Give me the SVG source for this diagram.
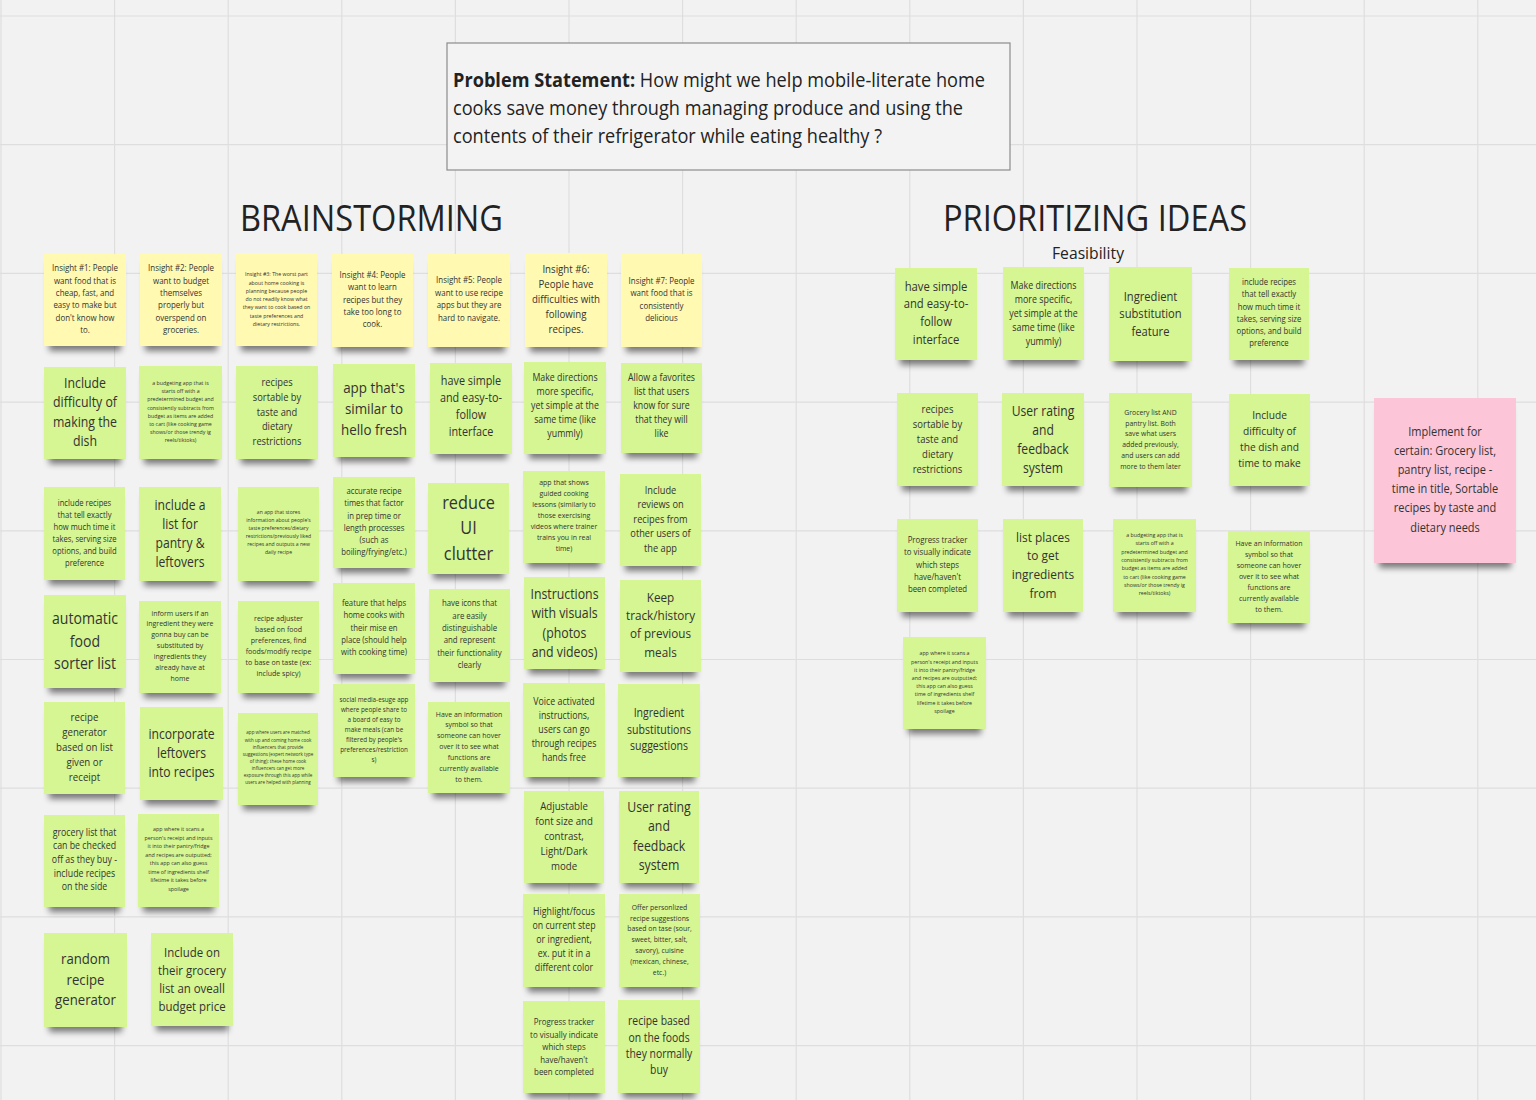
<svg xmlns="http://www.w3.org/2000/svg" width="1536" height="1100" viewBox="0 0 1536 1100">
<defs>
<style>
.bg{fill:#f2f2f2}
.grid{stroke:#dedede;stroke-width:1.2;fill:none}
.y,.g,.p{filter:url(#sh)}
.y{fill:#fff9b1}
.g{fill:#d5f692}
.p{fill:#fcc6d8}
.t{font-family:"Open Sans","Liberation Sans",sans-serif;fill:#333;text-anchor:middle}
.h{font-family:"Open Sans","Liberation Sans",sans-serif;fill:#222}
</style>
<filter id="sh" x="-15%" y="-15%" width="130%" height="140%">
<feMorphology in="SourceAlpha" operator="erode" radius="5 2"/>
<feOffset dy="7"/>
<feGaussianBlur stdDeviation="3"/>
<feComponentTransfer><feFuncA type="linear" slope="0.5"/></feComponentTransfer>
<feMerge><feMergeNode/><feMergeNode in="SourceGraphic"/></feMerge>
</filter>
</defs>
<rect class="bg" x="0" y="0" width="1536" height="1100"/>
<path class="grid" d="M1 0V1100M114.6 0V1100M228.2 0V1100M341.8 0V1100M455.4 0V1100M569 0V1100M682.6 0V1100M796.2 0V1100M909.8 0V1100M1023.4 0V1100M1137 0V1100M1250.6 0V1100M1364.2 0V1100M1477.8 0V1100M0 16H1536M0 144.7H1536M0 273.4H1536M0 402.1H1536M0 530.8H1536M0 659.5H1536M0 788.2H1536M0 916.9H1536M0 1045.6H1536"/>

<g id="problem">
<rect x="447" y="43" width="563" height="127" fill="#f3f3f3" stroke="#8c8c8c" stroke-width="1.2"/>
<text class="h" x="453" y="87" font-size="20" textLength="532" lengthAdjust="spacingAndGlyphs"><tspan font-weight="bold">Problem Statement:</tspan> How might we help mobile-literate home</text>
<text class="h" x="453" y="115" font-size="20" textLength="510" lengthAdjust="spacingAndGlyphs">cooks save money through managing produce and using the</text>
<text class="h" x="453" y="143" font-size="20" textLength="429" lengthAdjust="spacingAndGlyphs">contents of their refrigerator while eating healthy ?</text>
</g>
<g id="titles">
<text class="h" x="240" y="231" font-size="36" textLength="263" lengthAdjust="spacingAndGlyphs">BRAINSTORMING</text>
<text class="h" x="943" y="231" font-size="36" textLength="304" lengthAdjust="spacingAndGlyphs">PRIORITIZING IDEAS</text>
<text class="h" x="1052" y="259" font-size="17" textLength="72" lengthAdjust="spacingAndGlyphs">Feasibility</text>
</g>
<g id="connectors"/>

<g id="b1-1"><rect class="y" x="44" y="254" width="82" height="92"/><text class="t" transform="matrix(.88 0 0 1 85 0)" font-size="9"><tspan x="0" y="271.2">Insight #1: People</tspan><tspan x="0" dy="12.4">want food that is</tspan><tspan x="0" dy="12.4">cheap, fast, and</tspan><tspan x="0" dy="12.4">easy to make but</tspan><tspan x="0" dy="12.4">don't know how</tspan><tspan x="0" dy="12.4">to.</tspan></text></g>
<g id="b1-2"><rect class="g" x="44" y="367" width="82" height="92"/><text class="t" transform="matrix(.88 0 0 1 85 0)" font-size="14"><tspan x="0" y="388">Include</tspan><tspan x="0" dy="19.3">difficulty of</tspan><tspan x="0" dy="19.3">making the</tspan><tspan x="0" dy="19.3">dish</tspan></text></g>
<g id="b1-3"><rect class="g" x="44" y="487" width="81" height="93"/><text class="t" transform="matrix(.88 0 0 1 84.5 0)" font-size="8.7"><tspan x="0" y="506.1">include recipes</tspan><tspan x="0" dy="12">that tell exactly</tspan><tspan x="0" dy="12">how much time it</tspan><tspan x="0" dy="12">takes, serving size</tspan><tspan x="0" dy="12">options, and build</tspan><tspan x="0" dy="12">preference</tspan></text></g>
<g id="b1-4"><rect class="g" x="44" y="595" width="82" height="93"/><text class="t" transform="matrix(.88 0 0 1 85 0)" font-size="16"><tspan x="0" y="624.3">automatic</tspan><tspan x="0" dy="22.5">food</tspan><tspan x="0" dy="22.5">sorter list</tspan></text></g>
<g id="b1-5"><rect class="g" x="44" y="702" width="81" height="92"/><text class="t" transform="matrix(.88 0 0 1 84.5 0)" font-size="11"><tspan x="0" y="721">recipe</tspan><tspan x="0" dy="15">generator</tspan><tspan x="0" dy="15">based on list</tspan><tspan x="0" dy="15">given or</tspan><tspan x="0" dy="15">receipt</tspan></text></g>
<g id="b1-6"><rect class="g" x="44" y="815" width="81" height="92"/><text class="t" transform="matrix(.88 0 0 1 84.5 0)" font-size="10"><tspan x="0" y="835.7">grocery list that</tspan><tspan x="0" dy="13.7">can be checked</tspan><tspan x="0" dy="13.7">off as they buy -</tspan><tspan x="0" dy="13.7">include recipes</tspan><tspan x="0" dy="13.7">on the side</tspan></text></g>
<g id="b1-7"><rect class="g" x="44" y="933" width="83" height="94"/><text class="t" transform="matrix(.88 0 0 1 85.5 0)" font-size="15"><tspan x="0" y="964.4">random</tspan><tspan x="0" dy="20.5">recipe</tspan><tspan x="0" dy="20.5">generator</tspan></text></g>

<g id="b2-1"><rect class="y" x="140" y="254" width="82" height="92"/><text class="t" transform="matrix(.88 0 0 1 181 0)" font-size="9"><tspan x="0" y="271.2">Insight #2: People</tspan><tspan x="0" dy="12.4">want to budget</tspan><tspan x="0" dy="12.4">themselves</tspan><tspan x="0" dy="12.4">properly but</tspan><tspan x="0" dy="12.4">overspend on</tspan><tspan x="0" dy="12.4">groceries.</tspan></text></g>
<g id="b2-2"><rect class="g" x="139" y="366" width="83" height="93"/><text class="t" transform="matrix(.88 0 0 1 180.5 0)" font-size="6"><tspan x="0" y="385">a budgeting app that is</tspan><tspan x="0" dy="8.2">starts off with a</tspan><tspan x="0" dy="8.2">predetermined budget and</tspan><tspan x="0" dy="8.2">consistently subtracts from</tspan><tspan x="0" dy="8.2">budget as items are added</tspan><tspan x="0" dy="8.2">to cart (like cooking game</tspan><tspan x="0" dy="8.2">shows/or those trendy ig</tspan><tspan x="0" dy="8.2">reels/tiktoks)</tspan></text></g>
<g id="b2-3"><rect class="g" x="139" y="487" width="82" height="94"/><text class="t" transform="matrix(.88 0 0 1 180 0)" font-size="13.8"><tspan x="0" y="510">include a</tspan><tspan x="0" dy="19">list for</tspan><tspan x="0" dy="19">pantry &amp;</tspan><tspan x="0" dy="19">leftovers</tspan></text></g>
<g id="b2-4"><rect class="g" x="139" y="601" width="82" height="92"/><text class="t" transform="matrix(.88 0 0 1 180 0)" font-size="7.9"><tspan x="0" y="615.6">inform users if an</tspan><tspan x="0" dy="10.9">ingredient they were</tspan><tspan x="0" dy="10.9">gonna buy can be</tspan><tspan x="0" dy="10.9">substituted by</tspan><tspan x="0" dy="10.9">ingredients they</tspan><tspan x="0" dy="10.9">already have at</tspan><tspan x="0" dy="10.9">home</tspan></text></g>
<g id="b2-5"><rect class="g" x="140" y="707" width="83" height="93"/><text class="t" transform="matrix(.88 0 0 1 181.5 0)" font-size="13.8"><tspan x="0" y="739.5">incorporate</tspan><tspan x="0" dy="19">leftovers</tspan><tspan x="0" dy="19">into recipes</tspan></text></g>
<g id="b2-6"><rect class="g" x="138" y="814" width="81" height="93"/><text class="t" transform="matrix(.88 0 0 1 178.5 0)" font-size="6.1"><tspan x="0" y="831.5">app where it scans a</tspan><tspan x="0" dy="8.5">person's receipt and inputs</tspan><tspan x="0" dy="8.5">it into their pantry/fridge</tspan><tspan x="0" dy="8.5">and recipes are outputted;</tspan><tspan x="0" dy="8.5">this app can also guess</tspan><tspan x="0" dy="8.5">time of ingredients shelf</tspan><tspan x="0" dy="8.5">lifetime it takes before</tspan><tspan x="0" dy="8.5">spoilage</tspan></text></g>
<g id="b2-7"><rect class="g" x="151" y="933" width="82" height="93"/><text class="t" transform="matrix(.88 0 0 1 192 0)" font-size="13"><tspan x="0" y="956.7">Include on</tspan><tspan x="0" dy="18">their grocery</tspan><tspan x="0" dy="18">list an oveall</tspan><tspan x="0" dy="18">budget price</tspan></text></g>

<g id="b3-1"><rect class="y" x="236" y="253" width="81" height="93"/><text class="t" transform="matrix(.88 0 0 1 276.5 0)" font-size="6"><tspan x="0" y="276.3">Insight #3: The worst part</tspan><tspan x="0" dy="8.3">about home cooking is</tspan><tspan x="0" dy="8.3">planning because people</tspan><tspan x="0" dy="8.3">do not readily know what</tspan><tspan x="0" dy="8.3">they want to cook based on</tspan><tspan x="0" dy="8.3">taste preferences and</tspan><tspan x="0" dy="8.3">dietary restrictions.</tspan></text></g>
<g id="b3-2"><rect class="g" x="236" y="366" width="82" height="93"/><text class="t" transform="matrix(.88 0 0 1 277 0)" font-size="10.6"><tspan x="0" y="386.4">recipes</tspan><tspan x="0" dy="14.7">sortable by</tspan><tspan x="0" dy="14.7">taste and</tspan><tspan x="0" dy="14.7">dietary</tspan><tspan x="0" dy="14.7">restrictions</tspan></text></g>
<g id="b3-3"><rect class="g" x="238" y="487" width="81" height="94"/><text class="t" transform="matrix(.88 0 0 1 278.5 0)" font-size="5.8"><tspan x="0" y="514.1">an app that stores</tspan><tspan x="0" dy="8">information about people's</tspan><tspan x="0" dy="8">taste preferences/dietary</tspan><tspan x="0" dy="8">restrictions/previously liked</tspan><tspan x="0" dy="8">recipes and outputs a new</tspan><tspan x="0" dy="8">daily recipe</tspan></text></g>
<g id="b3-4"><rect class="g" x="238" y="601" width="81" height="92"/><text class="t" transform="matrix(.88 0 0 1 278.5 0)" font-size="8"><tspan x="0" y="620.9">recipe adjuster</tspan><tspan x="0" dy="11">based on food</tspan><tspan x="0" dy="11">preferences, find</tspan><tspan x="0" dy="11">foods/modify recipe</tspan><tspan x="0" dy="11">to base on taste (ex:</tspan><tspan x="0" dy="11">include spicy)</tspan></text></g>
<g id="b3-5"><rect class="g" x="238" y="713" width="80" height="92"/><text class="t" transform="matrix(.88 0 0 1 278 0)" font-size="5.2"><tspan x="0" y="734.5">app where users are matched</tspan><tspan x="0" dy="7.1">with up and coming home cook</tspan><tspan x="0" dy="7.1">influencers that provide</tspan><tspan x="0" dy="7.1">suggestions (expert network type</tspan><tspan x="0" dy="7.1">of thing); these home cook</tspan><tspan x="0" dy="7.1">influencers can get more</tspan><tspan x="0" dy="7.1">exposure through this app while</tspan><tspan x="0" dy="7.1">users are helped with planning</tspan></text></g>

<g id="b4-1"><rect class="y" x="332" y="254" width="81" height="93"/><text class="t" transform="matrix(.88 0 0 1 372.5 0)" font-size="9"><tspan x="0" y="278.1">Insight #4: People</tspan><tspan x="0" dy="12.3">want to learn</tspan><tspan x="0" dy="12.3">recipes but they</tspan><tspan x="0" dy="12.3">take too long to</tspan><tspan x="0" dy="12.3">cook.</tspan></text></g>
<g id="b4-2"><rect class="g" x="333" y="364" width="82" height="93"/><text class="t" transform="matrix(.88 0 0 1 374 0)" font-size="15.2"><tspan x="0" y="393.5">app that's</tspan><tspan x="0" dy="21">similar to</tspan><tspan x="0" dy="21">hello fresh</tspan></text></g>
<g id="b4-3"><rect class="g" x="333" y="477" width="82" height="91"/><text class="t" transform="matrix(.88 0 0 1 374 0)" font-size="8.8"><tspan x="0" y="494.2">accurate recipe</tspan><tspan x="0" dy="12.2">times that factor</tspan><tspan x="0" dy="12.2">in prep time or</tspan><tspan x="0" dy="12.2">length processes</tspan><tspan x="0" dy="12.2">(such as</tspan><tspan x="0" dy="12.2">boiling/frying/etc.)</tspan></text></g>
<g id="b4-4"><rect class="g" x="333" y="583" width="82" height="91"/><text class="t" transform="matrix(.88 0 0 1 374 0)" font-size="8.8"><tspan x="0" y="606.3">feature that helps</tspan><tspan x="0" dy="12.2">home cooks with</tspan><tspan x="0" dy="12.2">their mise en</tspan><tspan x="0" dy="12.2">place (should help</tspan><tspan x="0" dy="12.2">with cooking time)</tspan></text></g>
<g id="b4-5"><rect class="g" x="333" y="684" width="82" height="93"/><text class="t" transform="matrix(.88 0 0 1 374 0)" font-size="7.2"><tspan x="0" y="701.6">social media-esuge app</tspan><tspan x="0" dy="10">where people share to</tspan><tspan x="0" dy="10">a board of easy to</tspan><tspan x="0" dy="10">make meals (can be</tspan><tspan x="0" dy="10">filtered by people's</tspan><tspan x="0" dy="10">preferences/restriction</tspan><tspan x="0" dy="10">s)</tspan></text></g>

<g id="b5-1"><rect class="y" x="428" y="254" width="82" height="93"/><text class="t" transform="matrix(.88 0 0 1 469 0)" font-size="9"><tspan x="0" y="283.5">Insight #5: People</tspan><tspan x="0" dy="12.5">want to use recipe</tspan><tspan x="0" dy="12.5">apps but they are</tspan><tspan x="0" dy="12.5">hard to navigate.</tspan></text></g>
<g id="b5-2"><rect class="g" x="430" y="363" width="82" height="91"/><text class="t" transform="matrix(.88 0 0 1 471 0)" font-size="12.3"><tspan x="0" y="385.4">have simple</tspan><tspan x="0" dy="17">and easy-to-</tspan><tspan x="0" dy="17">follow</tspan><tspan x="0" dy="17">interface</tspan></text></g>
<g id="b5-3"><rect class="g" x="428" y="483" width="81" height="91"/><text class="t" transform="matrix(.88 0 0 1 468.5 0)" font-size="18.5"><tspan x="0" y="508.7">reduce</tspan><tspan x="0" dy="25.5">UI</tspan><tspan x="0" dy="25.5">clutter</tspan></text></g>
<g id="b5-4"><rect class="g" x="429" y="589" width="81" height="93"/><text class="t" transform="matrix(.88 0 0 1 469.5 0)" font-size="8.9"><tspan x="0" y="606.5">have icons that</tspan><tspan x="0" dy="12.3">are easily</tspan><tspan x="0" dy="12.3">distinguishable</tspan><tspan x="0" dy="12.3">and represent</tspan><tspan x="0" dy="12.3">their functionality</tspan><tspan x="0" dy="12.3">clearly</tspan></text></g>
<g id="b5-5"><rect class="g" x="428" y="702" width="82" height="91"/><text class="t" transform="matrix(.88 0 0 1 469 0)" font-size="7.9"><tspan x="0" y="716.6">Have an information</tspan><tspan x="0" dy="10.9">symbol so that</tspan><tspan x="0" dy="10.9">someone can hover</tspan><tspan x="0" dy="10.9">over it to see what</tspan><tspan x="0" dy="10.9">functions are</tspan><tspan x="0" dy="10.9">currently available</tspan><tspan x="0" dy="10.9">to them.</tspan></text></g>

<g id="b6-1"><rect class="y" x="525" y="253" width="82" height="94"/><text class="t" transform="matrix(.88 0 0 1 566 0)" font-size="11"><tspan x="0" y="273">Insight #6:</tspan><tspan x="0" dy="15">People have</tspan><tspan x="0" dy="15">difficulties with</tspan><tspan x="0" dy="15">following</tspan><tspan x="0" dy="15">recipes.</tspan></text></g>
<g id="b6-2"><rect class="g" x="524" y="362" width="82" height="92"/><text class="t" transform="matrix(.88 0 0 1 565 0)" font-size="10"><tspan x="0" y="381.5">Make directions</tspan><tspan x="0" dy="13.8">more specific,</tspan><tspan x="0" dy="13.8">yet simple at the</tspan><tspan x="0" dy="13.8">same time (like</tspan><tspan x="0" dy="13.8">yummly)</tspan></text></g>
<g id="b6-3"><rect class="g" x="523" y="471" width="82" height="92"/><text class="t" transform="matrix(.88 0 0 1 564 0)" font-size="7.9"><tspan x="0" y="484.8">app that shows</tspan><tspan x="0" dy="11">guided cooking</tspan><tspan x="0" dy="11">lessons (similarly to</tspan><tspan x="0" dy="11">those exercising</tspan><tspan x="0" dy="11">videos where trainer</tspan><tspan x="0" dy="11">trains you in real</tspan><tspan x="0" dy="11">time)</tspan></text></g>
<g id="b6-4"><rect class="g" x="524" y="577" width="81" height="92"/><text class="t" transform="matrix(.88 0 0 1 564.5 0)" font-size="14"><tspan x="0" y="599">Instructions</tspan><tspan x="0" dy="19.3">with visuals</tspan><tspan x="0" dy="19.3">(photos</tspan><tspan x="0" dy="19.3">and videos)</tspan></text></g>
<g id="b6-5"><rect class="g" x="523" y="683" width="82" height="94"/><text class="t" transform="matrix(.88 0 0 1 564 0)" font-size="10"><tspan x="0" y="705.5">Voice activated</tspan><tspan x="0" dy="13.8">instructions,</tspan><tspan x="0" dy="13.8">users can go</tspan><tspan x="0" dy="13.8">through recipes</tspan><tspan x="0" dy="13.8">hands free</tspan></text></g>
<g id="b6-6"><rect class="g" x="524" y="791" width="80" height="92"/><text class="t" transform="matrix(.88 0 0 1 564 0)" font-size="11"><tspan x="0" y="810">Adjustable</tspan><tspan x="0" dy="15">font size and</tspan><tspan x="0" dy="15">contrast,</tspan><tspan x="0" dy="15">Light/Dark</tspan><tspan x="0" dy="15">mode</tspan></text></g>
<g id="b6-7"><rect class="g" x="523" y="894" width="82" height="93"/><text class="t" transform="matrix(.88 0 0 1 564 0)" font-size="10"><tspan x="0" y="915.5">Highlight/focus</tspan><tspan x="0" dy="13.8">on current step</tspan><tspan x="0" dy="13.8">or ingredient,</tspan><tspan x="0" dy="13.8">ex. put it in a</tspan><tspan x="0" dy="13.8">different color</tspan></text></g>
<g id="b6-8"><rect class="g" x="523" y="1001" width="82" height="92"/><text class="t" transform="matrix(.88 0 0 1 564 0)" font-size="9"><tspan x="0" y="1025.2">Progress tracker</tspan><tspan x="0" dy="12.5">to visually indicate</tspan><tspan x="0" dy="12.5">which steps</tspan><tspan x="0" dy="12.5">have/haven't</tspan><tspan x="0" dy="12.5">been completed</tspan></text></g>

<g id="b7-1"><rect class="y" x="621" y="254" width="81" height="93"/><text class="t" transform="matrix(.88 0 0 1 661.5 0)" font-size="9"><tspan x="0" y="284.1">Insight #7: People</tspan><tspan x="0" dy="12.4">want food that is</tspan><tspan x="0" dy="12.4">consistently</tspan><tspan x="0" dy="12.4">delicious</tspan></text></g>
<g id="b7-2"><rect class="g" x="621" y="363" width="81" height="90"/><text class="t" transform="matrix(.88 0 0 1 661.5 0)" font-size="10"><tspan x="0" y="381.5">Allow a favorites</tspan><tspan x="0" dy="13.8">list that users</tspan><tspan x="0" dy="13.8">know for sure</tspan><tspan x="0" dy="13.8">that they will</tspan><tspan x="0" dy="13.8">like</tspan></text></g>
<g id="b7-3"><rect class="g" x="620" y="474" width="81" height="92"/><text class="t" transform="matrix(.88 0 0 1 660.5 0)" font-size="10.5"><tspan x="0" y="493.8">Include</tspan><tspan x="0" dy="14.5">reviews on</tspan><tspan x="0" dy="14.5">recipes from</tspan><tspan x="0" dy="14.5">other users of</tspan><tspan x="0" dy="14.5">the app</tspan></text></g>
<g id="b7-4"><rect class="g" x="620" y="580" width="81" height="92"/><text class="t" transform="matrix(.88 0 0 1 660.5 0)" font-size="13.3"><tspan x="0" y="601.9">Keep</tspan><tspan x="0" dy="18.3">track/history</tspan><tspan x="0" dy="18.3">of previous</tspan><tspan x="0" dy="18.3">meals</tspan></text></g>
<g id="b7-5"><rect class="g" x="618" y="684" width="82" height="93"/><text class="t" transform="matrix(.88 0 0 1 659 0)" font-size="12"><tspan x="0" y="717.3">Ingredient</tspan><tspan x="0" dy="16.5">substitutions</tspan><tspan x="0" dy="16.5">suggestions</tspan></text></g>
<g id="b7-6"><rect class="g" x="619" y="791" width="80" height="92"/><text class="t" transform="matrix(.88 0 0 1 659 0)" font-size="14"><tspan x="0" y="812">User rating</tspan><tspan x="0" dy="19.3">and</tspan><tspan x="0" dy="19.3">feedback</tspan><tspan x="0" dy="19.3">system</tspan></text></g>
<g id="b7-7"><rect class="g" x="619" y="894" width="81" height="93"/><text class="t" transform="matrix(.88 0 0 1 659.5 0)" font-size="7.8"><tspan x="0" y="909.9">Offer personlized</tspan><tspan x="0" dy="10.8">recipe suggestions</tspan><tspan x="0" dy="10.8">based on tase (sour,</tspan><tspan x="0" dy="10.8">sweet, bitter, salt,</tspan><tspan x="0" dy="10.8">savory), cuisine</tspan><tspan x="0" dy="10.8">(mexican, chinese,</tspan><tspan x="0" dy="10.8">etc.)</tspan></text></g>
<g id="b7-8"><rect class="g" x="618" y="1000" width="82" height="93"/><text class="t" transform="matrix(.88 0 0 1 659 0)" font-size="11.8"><tspan x="0" y="1025.3">recipe based</tspan><tspan x="0" dy="16.3">on the foods</tspan><tspan x="0" dy="16.3">they normally</tspan><tspan x="0" dy="16.3">buy</tspan></text></g>

<g id="p1"><rect class="g" x="895" y="268" width="82" height="92"/><text class="t" transform="matrix(.88 0 0 1 936 0)" font-size="12.8"><tspan x="0" y="290.6">have simple</tspan><tspan x="0" dy="17.7">and easy-to-</tspan><tspan x="0" dy="17.7">follow</tspan><tspan x="0" dy="17.7">interface</tspan></text></g>
<g id="p2"><rect class="g" x="1003" y="267" width="81" height="93"/><text class="t" transform="matrix(.88 0 0 1 1043.5 0)" font-size="10.1"><tspan x="0" y="288.6">Make directions</tspan><tspan x="0" dy="14">more specific,</tspan><tspan x="0" dy="14">yet simple at the</tspan><tspan x="0" dy="14">same time (like</tspan><tspan x="0" dy="14">yummly)</tspan></text></g>
<g id="p3"><rect class="g" x="1109" y="267" width="83" height="94"/><text class="t" transform="matrix(.88 0 0 1 1150.5 0)" font-size="12.7"><tspan x="0" y="300.6">Ingredient</tspan><tspan x="0" dy="17.5">substitution</tspan><tspan x="0" dy="17.5">feature</tspan></text></g>
<g id="p4"><rect class="g" x="1229" y="268" width="80" height="92"/><text class="t" transform="matrix(.88 0 0 1 1269 0)" font-size="8.8"><tspan x="0" y="285.2">include recipes</tspan><tspan x="0" dy="12.2">that tell exactly</tspan><tspan x="0" dy="12.2">how much time it</tspan><tspan x="0" dy="12.2">takes, serving size</tspan><tspan x="0" dy="12.2">options, and build</tspan><tspan x="0" dy="12.2">preference</tspan></text></g>
<g id="p5"><rect class="g" x="897" y="393" width="81" height="93"/><text class="t" transform="matrix(.88 0 0 1 937.5 0)" font-size="10.8"><tspan x="0" y="412.9">recipes</tspan><tspan x="0" dy="15">sortable by</tspan><tspan x="0" dy="15">taste and</tspan><tspan x="0" dy="15">dietary</tspan><tspan x="0" dy="15">restrictions</tspan></text></g>
<g id="p6"><rect class="g" x="1002" y="393" width="82" height="93"/><text class="t" transform="matrix(.88 0 0 1 1043 0)" font-size="13.8"><tspan x="0" y="416">User rating</tspan><tspan x="0" dy="19">and</tspan><tspan x="0" dy="19">feedback</tspan><tspan x="0" dy="19">system</tspan></text></g>
<g id="p7"><rect class="g" x="1109" y="393" width="83" height="94"/><text class="t" transform="matrix(.88 0 0 1 1150.5 0)" font-size="7.8"><tspan x="0" y="414.8">Grocery list AND</tspan><tspan x="0" dy="10.8">pantry list. Both</tspan><tspan x="0" dy="10.8">save what users</tspan><tspan x="0" dy="10.8">added previously,</tspan><tspan x="0" dy="10.8">and users can add</tspan><tspan x="0" dy="10.8">more to them later</tspan></text></g>
<g id="p8"><rect class="g" x="1229" y="394" width="81" height="92"/><text class="t" transform="matrix(.88 0 0 1 1269.5 0)" font-size="11.6"><tspan x="0" y="419.2">Include</tspan><tspan x="0" dy="16">difficulty of</tspan><tspan x="0" dy="16">the dish and</tspan><tspan x="0" dy="16">time to make</tspan></text></g>
<g id="p9"><rect class="g" x="897" y="519" width="81" height="93"/><text class="t" transform="matrix(.88 0 0 1 937.5 0)" font-size="8.9"><tspan x="0" y="543.1">Progress tracker</tspan><tspan x="0" dy="12.3">to visually indicate</tspan><tspan x="0" dy="12.3">which steps</tspan><tspan x="0" dy="12.3">have/haven't</tspan><tspan x="0" dy="12.3">been completed</tspan></text></g>
<g id="p10"><rect class="g" x="1003" y="519" width="80" height="93"/><text class="t" transform="matrix(.88 0 0 1 1043 0)" font-size="13.5"><tspan x="0" y="541.8">list places</tspan><tspan x="0" dy="18.7">to get</tspan><tspan x="0" dy="18.7">ingredients</tspan><tspan x="0" dy="18.7">from</tspan></text></g>
<g id="p11"><rect class="g" x="1113" y="519" width="83" height="93"/><text class="t" transform="matrix(.88 0 0 1 1154.5 0)" font-size="6"><tspan x="0" y="537.1">a budgeting app that is</tspan><tspan x="0" dy="8.3">starts off with a</tspan><tspan x="0" dy="8.3">predetermined budget and</tspan><tspan x="0" dy="8.3">consistently subtracts from</tspan><tspan x="0" dy="8.3">budget as items are added</tspan><tspan x="0" dy="8.3">to cart (like cooking game</tspan><tspan x="0" dy="8.3">shows/or those trendy ig</tspan><tspan x="0" dy="8.3">reels/tiktoks)</tspan></text></g>
<g id="p12"><rect class="g" x="1228" y="531" width="82" height="92"/><text class="t" transform="matrix(.88 0 0 1 1269 0)" font-size="8"><tspan x="0" y="545.9">Have an information</tspan><tspan x="0" dy="11">symbol so that</tspan><tspan x="0" dy="11">someone can hover</tspan><tspan x="0" dy="11">over it to see what</tspan><tspan x="0" dy="11">functions are</tspan><tspan x="0" dy="11">currently available</tspan><tspan x="0" dy="11">to them.</tspan></text></g>
<g id="p13"><rect class="g" x="903" y="637" width="83" height="92"/><text class="t" transform="matrix(.88 0 0 1 944.5 0)" font-size="6"><tspan x="0" y="655.5">app where it scans a</tspan><tspan x="0" dy="8.2">person's receipt and inputs</tspan><tspan x="0" dy="8.2">it into their pantry/fridge</tspan><tspan x="0" dy="8.2">and recipes are outputted;</tspan><tspan x="0" dy="8.2">this app can also guess</tspan><tspan x="0" dy="8.2">time of ingredients shelf</tspan><tspan x="0" dy="8.2">lifetime it takes before</tspan><tspan x="0" dy="8.2">spoilage</tspan></text></g>

<g id="implement"><rect class="p" x="1374" y="398" width="142" height="165"/><text class="t" transform="matrix(.88 0 0 1 1445 0)" font-size="12.5"><tspan x="0" y="435.7">Implement for</tspan><tspan x="0" dy="19.2">certain: Grocery list,</tspan><tspan x="0" dy="19.2">pantry list, recipe -</tspan><tspan x="0" dy="19.2">time in title, Sortable</tspan><tspan x="0" dy="19.2">recipes by taste and</tspan><tspan x="0" dy="19.2">dietary needs</tspan></text></g>
</svg>
